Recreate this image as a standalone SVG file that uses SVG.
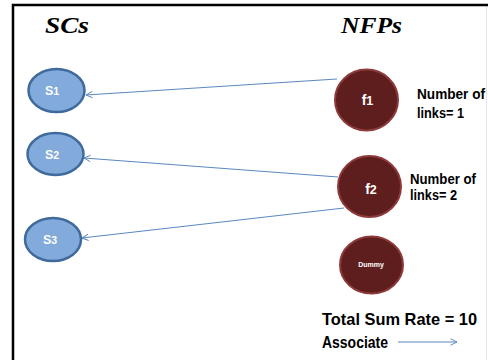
<svg xmlns="http://www.w3.org/2000/svg" width="488" height="360" viewBox="0 0 488 360">
  <defs>
    <style>
      .frame { fill: none; stroke: #000; stroke-width: 2.5; }
      .head { font-family: "Liberation Serif", "Times New Roman", serif; font-weight: bold; font-style: italic; font-size: 23px; fill: #000; }
      .sc { fill: #82aadb; stroke: #3f6a9c; stroke-width: 2.5; }
      .nfp { fill: #5e1e1e; stroke: #8f3a3a; stroke-width: 2; }
      .lbl { font-family: "Liberation Sans", Arial, sans-serif; font-weight: bold; fill: #fff; text-anchor: middle; }
      .note { font-family: "Liberation Sans", Arial, sans-serif; font-weight: bold; font-size: 14px; fill: #000; }
      .big { font-family: "Liberation Sans", Arial, sans-serif; font-weight: bold; font-size: 17px; fill: #000; }
      .link { stroke: #5a88c0; stroke-width: 1; fill: none; marker-end: url(#open); }
    </style>
    <marker id="open" viewBox="0 0 10 10" refX="9" refY="5" markerWidth="8" markerHeight="8" markerUnits="userSpaceOnUse" orient="auto">
      <path d="M1,1 L9,5 L1,9" fill="none" stroke="#5a88c0" stroke-width="1.2"/>
    </marker>
  </defs>

  <rect width="488" height="360" fill="#fff"/>
  <!-- outer frame (open at right and bottom) -->
  <line x1="486.5" y1="5" x2="486.5" y2="360" stroke="#e4e4e4" stroke-width="1"/>
  <path class="frame" d="M13,360 V5 H488"/>

  <text class="head" x="45" y="33" textLength="44" lengthAdjust="spacingAndGlyphs">SCs</text>
  <text class="head" x="341" y="33" textLength="61" lengthAdjust="spacingAndGlyphs">NFPs</text>

  <!-- connectors -->
  <g id="links">
    <line class="link" x1="337" y1="79" x2="86" y2="95"/>
    <line class="link" x1="338" y1="177" x2="84" y2="158"/>
    <line class="link" x1="344" y1="208" x2="82" y2="238"/>
  </g>

  <!-- SC nodes -->
  <g id="s1">
    <ellipse class="sc" cx="56.5" cy="90.5" rx="28" ry="21.5"/>
    <text class="lbl" x="52" y="95" font-size="12.5">S<tspan font-size="10.5">1</tspan></text>
  </g>
  <g id="s2">
    <ellipse class="sc" cx="55.5" cy="154" rx="28" ry="21"/>
    <text class="lbl" x="52" y="158.5" font-size="12.5">S<tspan font-size="10.5">2</tspan></text>
  </g>
  <g id="s3">
    <ellipse class="sc" cx="53" cy="239.5" rx="28" ry="21.5"/>
    <text class="lbl" x="50" y="244" font-size="12.5">S<tspan font-size="10.5">3</tspan></text>
  </g>

  <!-- NFP nodes -->
  <g id="f1">
    <ellipse class="nfp" cx="366.5" cy="100" rx="31.5" ry="30.5"/>
    <text class="lbl" x="367.5" y="105" font-size="14">f<tspan font-size="12.5">1</tspan></text>
  </g>
  <g id="f2">
    <ellipse class="nfp" cx="369.5" cy="186.5" rx="31.5" ry="30.5"/>
    <text class="lbl" x="371" y="194" font-size="14">f<tspan font-size="12.5">2</tspan></text>
  </g>
  <g id="dummy">
    <ellipse class="nfp" cx="371.5" cy="265" rx="31.5" ry="28.5"/>
    <text class="lbl" x="371" y="266.5" font-size="7">Dummy</text>
  </g>

  <!-- annotations -->
  <text class="note" x="417" y="99" textLength="68" lengthAdjust="spacingAndGlyphs">Number of</text>
  <text class="note" x="417" y="118" textLength="47" lengthAdjust="spacingAndGlyphs">links= 1</text>
  <text class="note" x="410" y="184" textLength="66" lengthAdjust="spacingAndGlyphs">Number of</text>
  <text class="note" x="410" y="200" textLength="47" lengthAdjust="spacingAndGlyphs">links= 2</text>

  <text class="big" x="322" y="325" textLength="155" lengthAdjust="spacingAndGlyphs">Total Sum Rate = 10</text>
  <text class="big" x="322" y="348" textLength="66" lengthAdjust="spacingAndGlyphs">Associate</text>
  <line class="link" x1="398" y1="342" x2="457" y2="342"/>
</svg>
